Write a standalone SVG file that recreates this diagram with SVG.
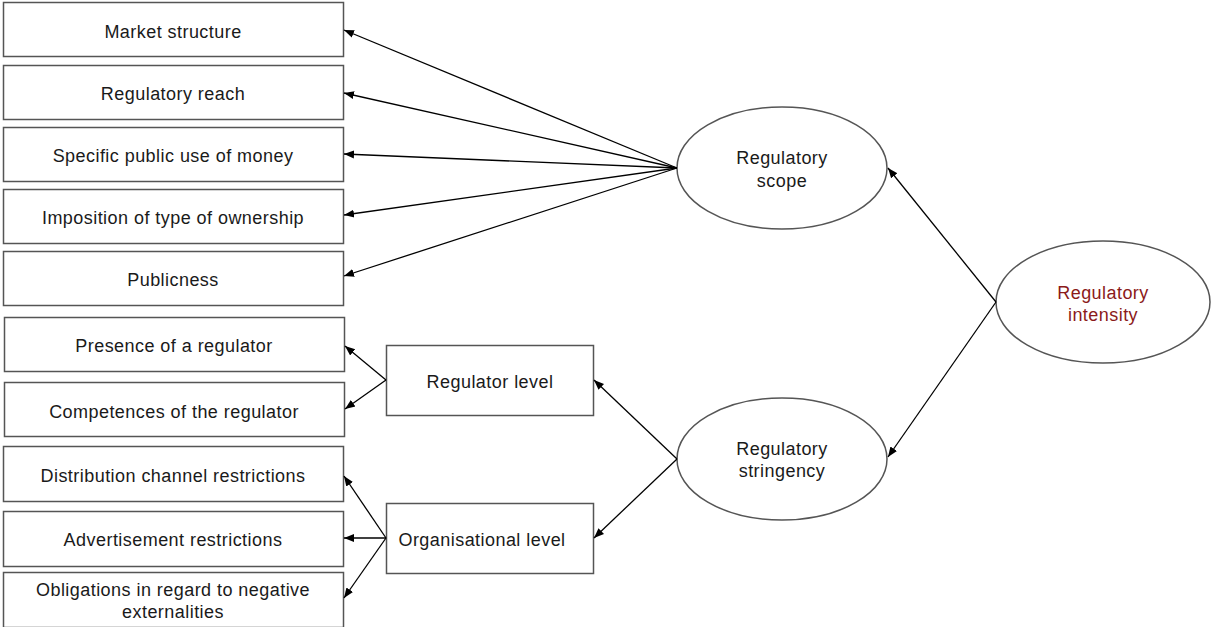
<svg xmlns="http://www.w3.org/2000/svg" width="1212" height="627" viewBox="0 0 1212 627">
<style>
.box{fill:#fff;stroke:#555;stroke-width:1.5}
.ell{fill:#fff;stroke:#555;stroke-width:1.5}
.t{font-family:"Liberation Sans",Arial,sans-serif;font-size:18px;letter-spacing:0.45px;fill:#1a1a1a;text-anchor:middle}
.red{fill:#8b1a1a}
.c line{stroke:#000;stroke-width:1.3;marker-end:url(#ah)}
</style>
<defs>
<marker id="ah" viewBox="0 0 10 10" refX="10" refY="5" markerWidth="10" markerHeight="10" markerUnits="userSpaceOnUse" orient="auto">
<path d="M0,1 L10,5 L0,9 Z" fill="#000"/>
</marker>
</defs>
<g id="n1"><rect class="box" x="3.5" y="2.5" width="340" height="54"/><text class="t" x="173" y="38">Market structure</text></g>
<g id="n2"><rect class="box" x="3.5" y="65.5" width="340" height="54"/><text class="t" x="173" y="100">Regulatory reach</text></g>
<g id="n3"><rect class="box" x="3.5" y="127.5" width="340" height="54"/><text class="t" x="173" y="162">Specific public use of money</text></g>
<g id="n4"><rect class="box" x="3.5" y="189.5" width="340" height="54"/><text class="t" x="173" y="224">Imposition of type of ownership</text></g>
<g id="n5"><rect class="box" x="3.5" y="251.5" width="340" height="54"/><text class="t" x="173" y="286">Publicness</text></g>
<g id="n6"><rect class="box" x="4.5" y="317.5" width="340" height="54"/><text class="t" x="174" y="352">Presence of a regulator</text></g>
<g id="n7"><rect class="box" x="4.5" y="382.5" width="340" height="54"/><text class="t" x="174" y="418">Competences of the regulator</text></g>
<g id="n8"><rect class="box" x="3.5" y="446.5" width="340" height="55"/><text class="t" x="173" y="482">Distribution channel restrictions</text></g>
<g id="n9"><rect class="box" x="3.5" y="511.5" width="340" height="55"/><text class="t" x="173" y="546">Advertisement restrictions</text></g>
<g id="n10"><rect class="box" x="3.5" y="572.5" width="340" height="55"/><text class="t" x="173" y="596">Obligations in regard to negative</text><text class="t" x="173" y="618">externalities</text></g>
<g id="n11"><rect class="box" x="386.5" y="345.5" width="207" height="70"/><text class="t" x="490" y="388">Regulator level</text></g>
<g id="n12"><rect class="box" x="386.5" y="503.5" width="207" height="70"/><text class="t" x="482" y="546">Organisational level</text></g>
<g id="n13"><ellipse class="ell" cx="782" cy="168" rx="105" ry="61"/><text class="t" x="782" y="164">Regulatory</text><text class="t" x="782" y="187">scope</text></g>
<g id="n14"><ellipse class="ell" cx="782" cy="459" rx="105" ry="61"/><text class="t" x="782" y="455">Regulatory</text><text class="t" x="782" y="477">stringency</text></g>
<g id="n15"><ellipse class="ell" cx="1103" cy="302" rx="107" ry="61"/><text class="t red" x="1103" y="299">Regulatory</text><text class="t red" x="1103" y="321">intensity</text></g>
<g id="connectors" class="c">
<line x1="677" y1="168" x2="344" y2="30"/>
<line x1="677" y1="168" x2="344" y2="93"/>
<line x1="677" y1="168" x2="344" y2="154"/>
<line x1="677" y1="168" x2="344" y2="215"/>
<line x1="677" y1="168" x2="344" y2="276"/>
<line x1="996" y1="302" x2="888" y2="168"/>
<line x1="996" y1="302" x2="888" y2="457"/>
<line x1="677" y1="459" x2="594" y2="380"/>
<line x1="677" y1="459" x2="594" y2="538"/>
<line x1="386" y1="380" x2="345" y2="346"/>
<line x1="386" y1="380" x2="345" y2="409"/>
<line x1="386" y1="538" x2="344" y2="476"/>
<line x1="386" y1="538" x2="344" y2="538"/>
<line x1="386" y1="538" x2="344" y2="598"/>
</g>
</svg>
